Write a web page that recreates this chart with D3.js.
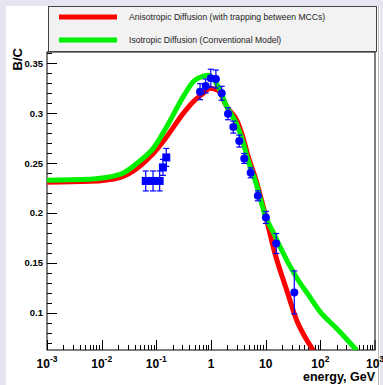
<!DOCTYPE html>
<html><head><meta charset="utf-8">
<script src="https://cdn.jsdelivr.net/npm/d3@7"></script>
<style>
html,body{margin:0;padding:0;background:#e6e6f0;}
svg{display:block;}
text{font-family:"Liberation Sans",Arial,Helvetica,sans-serif;}
</style></head>
<body><svg id="c" width="383" height="385"></svg>
<script>
// ---- data ----
const anisoE = [0.001,0.0061,0.0216,0.0502,0.0766,0.088,0.1546,0.311,0.474,0.723,0.959,1.36,1.94,2.95,3.90,4.81,6.65,9.72,14.8,24.2,36.9,52.4,74.3];
const anisoV = [0.2306,0.2316,0.2355,0.2469,0.2562,0.2596,0.2763,0.2998,0.3115,0.3199,0.325,0.3225,0.3064,0.293,0.2747,0.2562,0.233,0.1994,0.1593,0.1227,0.0923,0.0755,0.0622];
const isoE = [0.001,0.0061,0.0216,0.0502,0.088,0.1546,0.311,0.474,0.723,0.89,1.36,1.94,2.95,3.90,4.81,6.65,9.72,14.8,18.3,36.9,60,98.6,199,462];
const isoV = [0.2328,0.2338,0.2385,0.2522,0.2647,0.2864,0.3165,0.3315,0.3372,0.338,0.3265,0.3064,0.289,0.270,0.252,0.230,0.198,0.177,0.166,0.135,0.118,0.101,0.084,0.0622];
const sqE = [0.064,0.087,0.115,0.132,0.152];
const sqV = [0.232,0.232,0.232,0.2456,0.2556];
const sqErr = [0.010,0.010,0.010,0.008,0.009];
const cE = [0.63,0.80,0.99,1.23,1.57,2.05,2.56,3.29,4.06,5.32,7.21,10.1,15.6,33.4];
const cV = [0.3215,0.3272,0.335,0.3342,0.3199,0.2994,0.286,0.272,0.2546,0.2402,0.2171,0.1954,0.1693,0.1202];
const cErr = [0.008,0.007,0.009,0.009,0.007,0.006,0.006,0.006,0.005,0.005,0.005,0.006,0.010,0.0216];
const yTicks = [0.1,0.15,0.2,0.25,0.3,0.35];
const yTickLabels = ["0.1","0.15","0.2","0.25","0.3","0.35"];
const xTickExp = [-3,-2,-1,0,1,2,3];
const legendLabels = ["Anisotropic Diffusion (with trapping between MCCs)","Isotropic Diffusion (Conventional Model)"];
const xTitle = "energy, GeV", yTitle = "B/C";

const svg = d3.select("#c");
const L=47,R=375,T=52,B=350;
const x = d3.scaleLog().domain([1e-3,1e3]).range([L,R]);
const y = d3.scaleLinear().domain([0.0625,0.3613]).range([B,T]);

// canvas white area
svg.append("rect").attr("x",6).attr("y",6).attr("width",374).attr("height",379).attr("fill","#fff");
svg.append("line").attr("x1",378.5).attr("x2",378.5).attr("y1",6).attr("y2",385).attr("stroke","#bbb");

const g = svg.append("g");
// frame
g.append("rect").attr("x",L).attr("y",T).attr("width",R-L).attr("height",B-T).attr("fill","none").attr("stroke","#000").attr("stroke-width",1);

// y ticks
const yMinor = d3.range(0.07,0.3605,0.01);
yMinor.forEach(v=>{
  const major = yTicks.some(t=>Math.abs(t-v)<1e-6);
  g.append("line").attr("x1",L).attr("x2",L+(major?10:5)).attr("y1",Math.round(y(v))+0.5).attr("y2",Math.round(y(v))+0.5).attr("stroke","#000");
});
yTicks.forEach((v,i)=>{
  g.append("text").attr("x",43).attr("y",y(v)+3.5).attr("text-anchor","end").attr("font-size","9.5px").attr("font-weight","bold").text(yTickLabels[i]);
});
// x ticks
for(let e=-3;e<3;e++){
  for(let k=1;k<10;k++){
    const v=k*Math.pow(10,e);
    const px=Math.round(x(v))+0.5;
    g.append("line").attr("x1",px).attr("x2",px).attr("y1",B).attr("y2",B-(k===1?10:5)).attr("stroke","#000");
  }
}
g.append("line").attr("x1",R).attr("x2",R).attr("y1",B).attr("y2",B-10).attr("stroke","#000");
xTickExp.forEach(e=>{
  const t = g.append("text").attr("x",x(Math.pow(10,e))).attr("y",368).attr("text-anchor","middle").attr("font-size","12px").attr("font-weight","bold");
  if(e===0){t.text("1");}
  else if(e===1){t.text("10");}
  else{
    t.append("tspan").text("10");
    t.append("tspan").attr("dy",-6).attr("font-size","8.5px").text(e);
  }
});
// titles
svg.append("text").attr("x",375).attr("y",381).attr("text-anchor","end").attr("font-size","12.5px").attr("font-weight","bold").text(xTitle);
svg.append("text").attr("transform","translate(22,48) rotate(-90)").attr("text-anchor","end").attr("font-size","13px").attr("font-weight","bold").text(yTitle);

// curves
svg.append("clipPath").attr("id","clp").append("rect").attr("x",L).attr("y",T).attr("width",R-L).attr("height",B-T);
const line = d3.line().x(d=>x(d[0])).y(d=>y(d[1])).curve(d3.curveMonotoneX);
const cg = svg.append("g").attr("clip-path","url(#clp)");
cg.append("path").attr("d",line(anisoE.map((e,i)=>[e,anisoV[i]]))).attr("fill","none").attr("stroke","#ff0000").attr("stroke-width",5);
cg.append("path").attr("d",line(isoE.map((e,i)=>[e,isoV[i]]))).attr("fill","none").attr("stroke","#00f000").attr("stroke-width",5);

// data
const blue="#0000ff";
function errbar(E,V,Er){
  const px=x(E), y1=y(V+Er), y2=y(V-Er);
  svg.append("line").attr("x1",px).attr("x2",px).attr("y1",y1).attr("y2",y2).attr("stroke",blue).attr("stroke-width",1.2);
  [y1,y2].forEach(yy=>svg.append("line").attr("x1",px-3).attr("x2",px+3).attr("y1",yy).attr("y2",yy).attr("stroke",blue).attr("stroke-width",1.2));
}
sqE.forEach((E,i)=>{
  errbar(E,sqV[i],sqErr[i]);
  svg.append("rect").attr("x",x(E)-4).attr("y",y(sqV[i])-4).attr("width",8).attr("height",8).attr("fill",blue);
});
cE.forEach((E,i)=>{
  errbar(E,cV[i],cErr[i]);
  svg.append("circle").attr("cx",x(E)).attr("cy",y(cV[i])).attr("r",4).attr("fill",blue);
});

// legend
const lg = svg.append("g");
lg.append("rect").attr("x",48.5).attr("y",6.5).attr("width",328).attr("height",45).attr("fill","#f2f2f2").attr("stroke","#444");
const cols=["#ff0000","#00f000"], ly=[17,40];
legendLabels.forEach((s,i)=>{
  lg.append("line").attr("x1",59).attr("x2",117).attr("y1",ly[i]).attr("y2",ly[i]).attr("stroke",cols[i]).attr("stroke-width",5);
  lg.append("text").attr("x",129).attr("y",ly[i]+3).attr("font-size","8.6px").attr("fill","#222").text(s);
});
</script></body></html>
